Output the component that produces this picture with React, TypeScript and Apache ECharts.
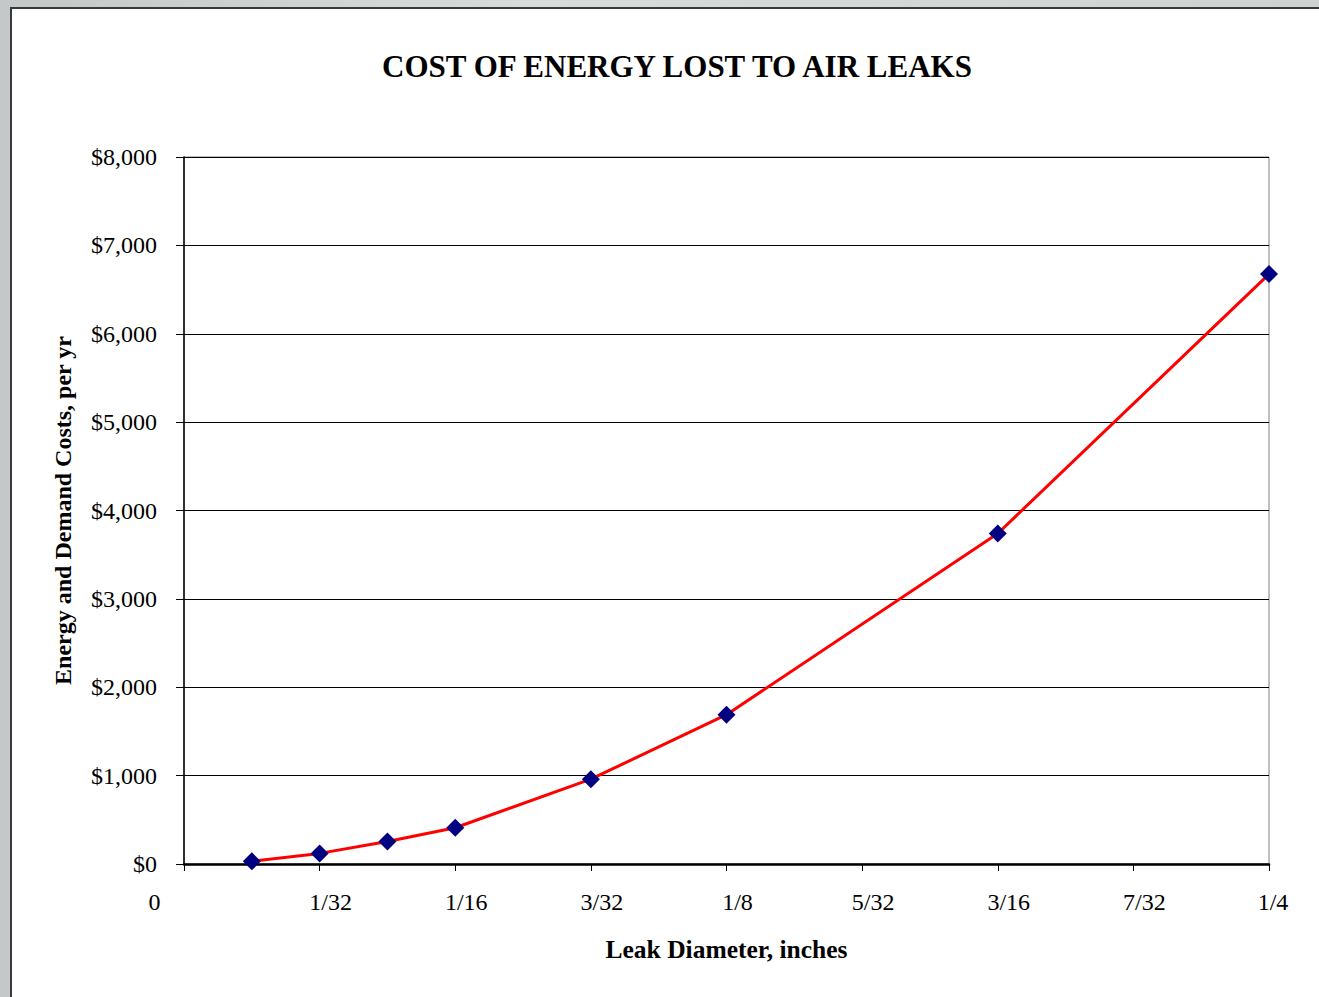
import React, { useEffect, useRef } from "react";
import * as echarts from "echarts";

const leakDiameters = [1 / 64, 1 / 32, 3 / 64, 1 / 16, 3 / 32, 1 / 8, 3 / 16, 1 / 4];
const annualCosts = [30, 120, 255, 410, 960, 1690, 3740, 6675];
const xTickLabels = ["0", "1/32", "1/16", "3/32", "1/8", "5/32", "3/16", "7/32", "1/4"];
const yTickValues = [0, 1000, 2000, 3000, 4000, 5000, 6000, 7000, 8000];

const FONT = "'Liberation Serif', 'Times New Roman', serif";

function money(v: number): string {
  const s = Math.round(v).toString().replace(/\B(?=(\d{3})+(?!\d))/g, ",");
  return "$" + s;
}

export default function App() {
  const ref = useRef<HTMLDivElement>(null);
  useEffect(() => {
    if (!ref.current) return;
    const chart = echarts.init(ref.current, undefined, { renderer: "svg" });
    const points = leakDiameters.map((d, i) => [d, annualCosts[i]]);
    chart.setOption({
      animation: false,
      backgroundColor: "transparent",
      title: {
        text: "COST OF ENERGY LOST TO AIR LEAKS",
        left: 672,
        top: 46,
        textAlign: "center",
        textStyle: {
          fontFamily: FONT,
          fontWeight: "bold",
          fontSize: 31,
          color: "#000",
        },
      },
      grid: {
        left: 184,
        top: 157,
        right: 50,
        bottom: 133,
        show: true,
        borderColor: "#808080",
        borderWidth: 1,
        backgroundColor: "transparent",
      },
      xAxis: {
        type: "value",
        min: 0,
        max: 0.25,
        interval: 1 / 32,
        name: "Leak Diameter, inches",
        nameLocation: "middle",
        nameGap: 72,
        nameTextStyle: {
          fontFamily: FONT,
          fontWeight: "bold",
          fontSize: 25.5,
          color: "#000",
        },
        axisLine: { show: true, onZero: false, lineStyle: { color: "#000", width: 2.5 } },
        axisTick: { show: true, length: 7, lineStyle: { color: "#000", width: 1 } },
        splitLine: { show: false },
        axisLabel: {
          margin: 26,
          fontFamily: FONT,
          fontSize: 24,
          color: "#000",
          formatter: (v: number) => {
            const idx = Math.round(v * 32);
            const t = xTickLabels[idx] ?? "";
            if (idx === 0) return "{z|" + t + "}";
            if (idx === xTickLabels.length - 1) return "{l|" + t + "}";
            return "{f|" + t + "}";
          },
          rich: {
            z: { fontFamily: FONT, fontSize: 24, color: "#000", padding: [0, 59, 0, 0] },
            f: { fontFamily: FONT, fontSize: 24, color: "#000", padding: [0, 0, 0, 22] },
            l: { fontFamily: FONT, fontSize: 24, color: "#000", padding: [0, 0, 0, 8] },
          },
        },
      },
      yAxis: {
        type: "value",
        min: 0,
        max: 8000,
        interval: 1000,
        name: "Energy and Demand Costs, per yr",
        nameLocation: "middle",
        nameGap: 109,
        nameTextStyle: {
          fontFamily: FONT,
          fontWeight: "bold",
          fontSize: 24,
          color: "#000",
        },
        axisLine: { show: true, lineStyle: { color: "#000", width: 1.5 } },
        axisTick: { show: true, length: 8, lineStyle: { color: "#000", width: 1 } },
        splitLine: { show: true, lineStyle: { color: "#000", width: 1 } },
        axisLabel: {
          margin: 27,
          fontFamily: FONT,
          fontSize: 24,
          color: "#000",
          formatter: (v: number) => (yTickValues.indexOf(v) >= 0 ? money(v) : ""),
        },
      },
      series: [
        {
          type: "line",
          data: points,
          symbol: "diamond",
          symbolSize: 18,
          lineStyle: { color: "#ff0000", width: 3 },
          itemStyle: { color: "#000080" },
          z: 5,
        },
      ],
    });
    return () => chart.dispose();
  }, []);

  return (
    <div
      style={{
        position: "fixed",
        left: 0,
        top: 0,
        width: 1319,
        height: 997,
        overflow: "hidden",
        background: "linear-gradient(90deg, #c4c8c8 0%, #d8dbdb 40%, #cfd2d2 100%)",
      }}
    >
      <div
        style={{
          position: "absolute",
          left: 10,
          top: 7,
          width: 1400,
          height: 1100,
          border: "2px solid #3a3a3a",
          background: "#ffffff",
        }}
      />
      <div ref={ref} style={{ position: "absolute", left: 0, top: 0, width: 1319, height: 997 }} />
    </div>
  );
}
